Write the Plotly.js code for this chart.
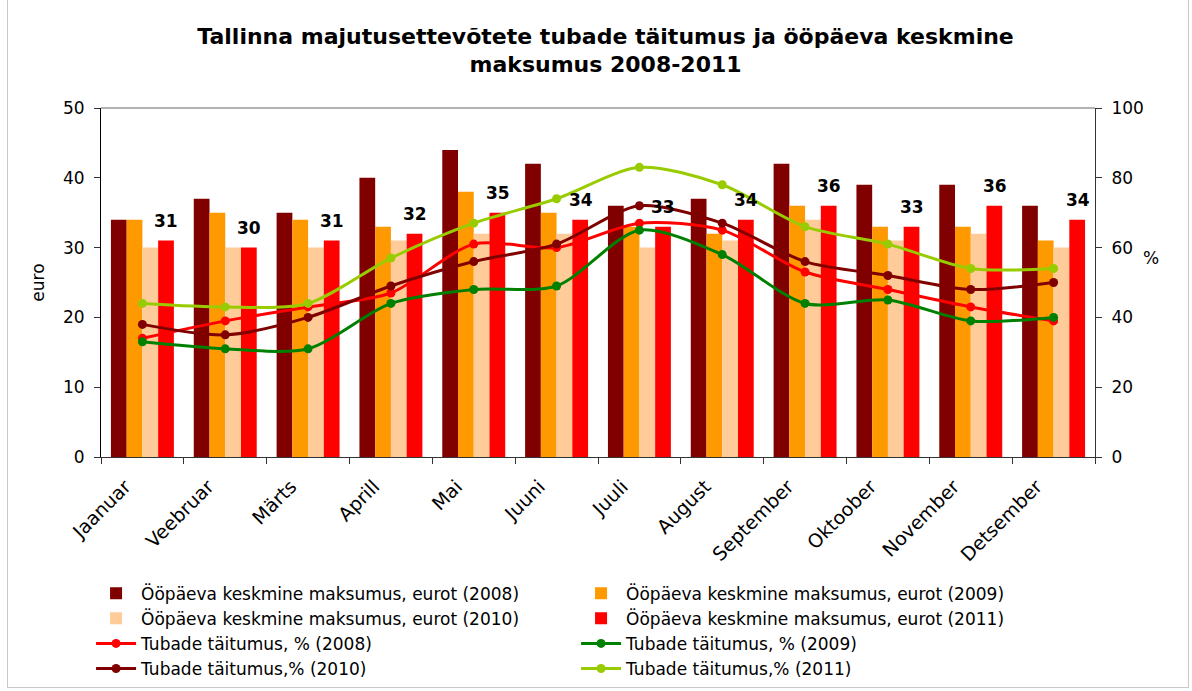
<!DOCTYPE html>
<html>
<head>
<meta charset="utf-8">
<script src="https://cdn.plot.ly/plotly-3.0.1.min.js"></script>
<style>
  html, body { margin: 0; padding: 0; background: #fff; }
  #chart { width: 1192px; height: 691px; }
  #frame { position: absolute; left: 7px; top: -2px; width: 1180px; height: 688px; border: 1px solid #c8c8c8; pointer-events: none; }
</style>
</head>
<body>
<div id="chart"></div>
<div id="frame"></div>
<script>
const months = ["Jaanuar","Veebruar","Märts","Aprill","Mai","Juuni","Juuli","August","September","Oktoober","November","Detsember"];

const price2008 = [34, 37, 35, 40, 44, 42, 36, 37, 42, 39, 39, 36];
const price2009 = [34, 35, 34, 33, 38, 35, 33, 32, 36, 33, 33, 31];
const price2010 = [30, 30, 30, 31, 32, 32, 30, 31, 34, 31, 32, 30];
const price2011 = [31, 30, 31, 32, 35, 34, 33, 34, 36, 33, 36, 34];

const occ2008 = [34, 39, 43, 47, 61, 60, 67, 65, 53, 48, 43, 39];
const occ2009 = [33, 31, 31, 44, 48, 49, 65, 58, 44, 45, 39, 40];
const occ2010 = [38, 35, 40, 49, 56, 61, 72, 67, 56, 52, 48, 50];
const occ2011 = [44, 43, 44, 57, 67, 74, 83, 78, 66, 61, 54, 54];

const barNames = ["Ööpäeva keskmine maksumus, eurot (2008)","Ööpäeva keskmine maksumus, eurot (2009)","Ööpäeva keskmine maksumus, eurot (2010)","Ööpäeva keskmine maksumus, eurot (2011)"];
const lineNames = ["Tubade täitumus, % (2008)","Tubade täitumus, % (2009)","Tubade täitumus,% (2010)","Tubade täitumus,% (2011)"];

const barColors = ["#800000","#FF9900","#FFCC99","#FF0000"];
const lineColors = ["#FF0000","#008000","#800000","#99CC00"];

const priceSeries = [price2008, price2009, price2010, price2011];
const occSeries = [occ2008, occ2009, occ2010, occ2011];

const traces = [];
priceSeries.forEach((vals, i) => {
  traces.push({
    type: "bar", x: months, y: vals, name: barNames[i],
    marker: {color: barColors[i]}, yaxis: "y", hoverinfo: "y"
  });
});
occSeries.forEach((vals, i) => {
  traces.push({
    type: "scatter", mode: "lines+markers", x: months, y: vals, name: lineNames[i],
    line: {color: lineColors[i], width: 3, shape: "spline", smoothing: 0.8},
    marker: {color: lineColors[i], size: 9},
    yaxis: "y2"
  });
});

const annotations = months.map((m, i) => ({
  x: m, y: price2011[i], xref: "x", yref: "y",
  text: String(price2011[i]), showarrow: false,
  xshift: 24, yshift: 20, yanchor: "middle",
  font: {family: "DejaVu Sans", size: 17, color: "#000", weight: "bold"}
}));
annotations.push({
  xref: "paper", yref: "paper", x: 1.066, y: 0.57, text: "%", showarrow: false,
  font: {family: "DejaVu Sans", size: 17, color: "#000"}
});

const layout = {
  width: 1192, height: 691,
  margin: {l: 101, r: 97, t: 108, b: 234, autoexpand: false},
  paper_bgcolor: "#fff", plot_bgcolor: "#fff",
  title: {
    text: "Tallinna majutusettevõtete tubade täitumus ja ööpäeva keskmine<br>maksumus 2008-2011",
    font: {family: "DejaVu Sans", size: 22, color: "#000", weight: "bold"},
    x: 0.508, xanchor: "center", xref: "container", y: 0.937, yref: "container", yanchor: "top"
  },
  barmode: "group", bargap: 0.24, bargroupgap: 0,
  xaxis: {
    type: "category", range: [-0.5, 11.5], autorange: false,
    showline: true, linecolor: "#333", linewidth: 1,
    ticks: "outside", tickson: "boundaries", ticklen: 6, tickcolor: "#333",
    tickangle: -45, showgrid: false, ticklabelshift: -17, ticklabelstandoff: 10,
    tickfont: {family: "DejaVu Sans", size: 19, color: "#000"}
  },
  yaxis: {
    range: [0, 50], dtick: 10, showline: true, linecolor: "#000", linewidth: 1,
    ticks: "outside", ticklen: 6, tickcolor: "#333", showgrid: false, zeroline: false,
    tickfont: {family: "DejaVu Sans", size: 17, color: "#000"},
    ticklabelstandoff: 6,
    title: {text: "euro", font: {family: "DejaVu Sans", size: 17, color: "#000"}, standoff: 14}
  },
  yaxis2: {
    range: [0, 100], dtick: 20, overlaying: "y", side: "right",
    showline: true, linecolor: "#333", linewidth: 1,
    ticks: "outside", ticklen: 6, tickcolor: "#333", showgrid: false, zeroline: false,
    tickfont: {family: "DejaVu Sans", size: 17, color: "#000"},
    ticklabelstandoff: 6
  },
  shapes: [{type: "line", xref: "paper", yref: "paper", x0: 0, x1: 1, y0: 1, y1: 1, line: {color: "#999", width: 1.5}}],
  annotations: annotations,
  showlegend: true,
  legend: {
    orientation: "h", x: -0.01, xanchor: "left", y: -0.34, yanchor: "top",
    entrywidth: 430, entrywidthmode: "pixels", traceorder: "normal",
    font: {family: "DejaVu Sans", size: 17, color: "#000"},
    itemwidth: 40, tracegroupgap: 0
  }
};

Plotly.newPlot("chart", traces, layout, {displayModeBar: false, staticPlot: true});
</script>
</body>
</html>
